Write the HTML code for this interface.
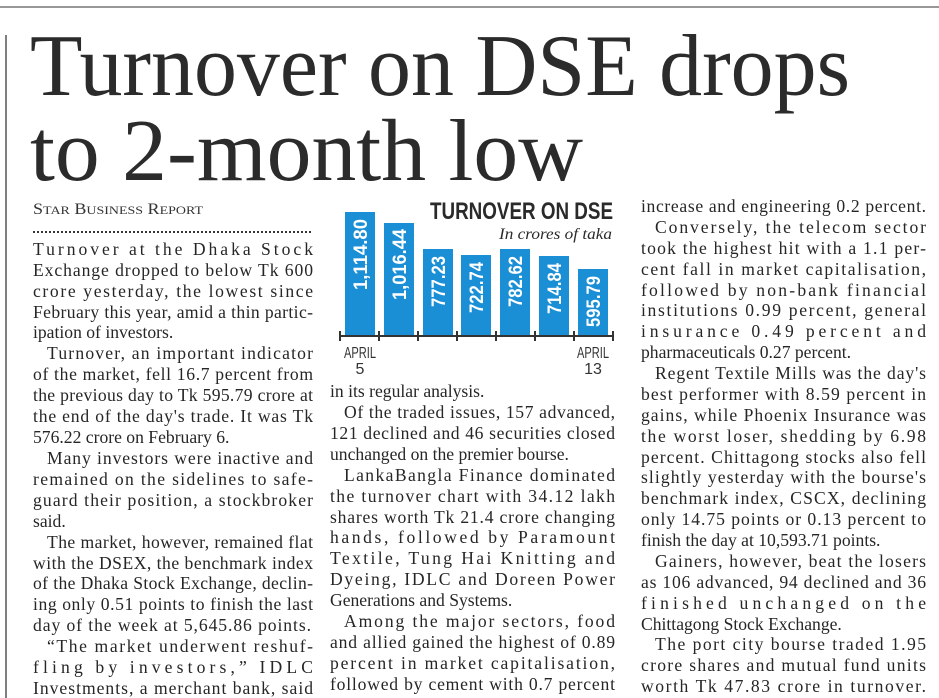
<!DOCTYPE html>
<html><head><meta charset="utf-8"><style>
html,body{margin:0;padding:0;background:#fff;}
svg{display:block}
.b{font-family:"Liberation Serif",serif;font-size:17.6px;fill:#262626;}
</style></head><body>
<svg width="939" height="698" viewBox="0 0 939 698" xmlns="http://www.w3.org/2000/svg">
<rect width="939" height="698" fill="#fff"/>
<line x1="0" y1="7" x2="939" y2="7" stroke="#777" stroke-width="1.5"/>
<line x1="6" y1="35" x2="6" y2="698" stroke="#555" stroke-width="1.5"/>
<g font-family="Liberation Serif, serif" fill="#2b2b2b" font-size="88">
<text x="30" y="95" textLength="820" lengthAdjust="spacingAndGlyphs">Turnover on DSE drops</text>
<text x="30" y="180" textLength="553" lengthAdjust="spacingAndGlyphs">to 2-month low</text>
</g>
<text x="33" y="214" font-family="Liberation Serif, serif" font-size="15.5" fill="#333" textLength="170" lengthAdjust="spacingAndGlyphs">S<tspan font-size="12">TAR</tspan> B<tspan font-size="12">USINESS</tspan> R<tspan font-size="12">EPORT</tspan></text>
<line x1="33" y1="232" x2="312" y2="232" stroke="#333" stroke-width="2" stroke-dasharray="2,2"/>

<!-- chart -->
<g fill="#1b8fd5">
<rect x="345" y="212" width="30" height="123"/>
<rect x="384" y="223" width="30" height="112"/>
<rect x="423" y="249" width="30" height="86"/>
<rect x="461" y="255" width="30" height="80"/>
<rect x="500" y="249" width="30" height="86"/>
<rect x="539" y="256" width="30" height="79"/>
<rect x="578" y="269" width="30" height="66"/>
</g>
<g font-family="Liberation Sans, sans-serif" font-weight="bold" font-size="19" fill="#fff" text-anchor="end">
<text transform="translate(367,219) rotate(-90)" textLength="71" lengthAdjust="spacingAndGlyphs">1,114.80</text>
<text transform="translate(406,229) rotate(-90)" textLength="71" lengthAdjust="spacingAndGlyphs">1,016.44</text>
<text transform="translate(445,256) rotate(-90)" textLength="51" lengthAdjust="spacingAndGlyphs">777.23</text>
<text transform="translate(483,262) rotate(-90)" textLength="51" lengthAdjust="spacingAndGlyphs">722.74</text>
<text transform="translate(522,256) rotate(-90)" textLength="51" lengthAdjust="spacingAndGlyphs">782.62</text>
<text transform="translate(561,263) rotate(-90)" textLength="51" lengthAdjust="spacingAndGlyphs">714.84</text>
<text transform="translate(600,276) rotate(-90)" textLength="51" lengthAdjust="spacingAndGlyphs">595.79</text>
</g>
<g stroke="#333" stroke-width="2">
<line x1="340" y1="336" x2="613" y2="336"/>
<line x1="340" y1="331" x2="340" y2="341"/><line x1="379" y1="331" x2="379" y2="341"/>
<line x1="418" y1="331" x2="418" y2="341"/><line x1="457" y1="331" x2="457" y2="341"/>
<line x1="496" y1="331" x2="496" y2="341"/><line x1="535" y1="331" x2="535" y2="341"/>
<line x1="574" y1="331" x2="574" y2="341"/><line x1="613" y1="331" x2="613" y2="341"/>
</g>
<g font-family="Liberation Sans, sans-serif" font-size="16" fill="#333" text-anchor="middle">
<text x="360" y="358" textLength="32" lengthAdjust="spacingAndGlyphs">APRIL</text>
<text x="360" y="374">5</text>
<text x="593" y="358" textLength="32" lengthAdjust="spacingAndGlyphs">APRIL</text>
<text x="593" y="374">13</text>
</g>
<text x="430" y="219" font-family="Liberation Sans, sans-serif" font-weight="bold" font-size="24" fill="#2a2a2a" textLength="183" lengthAdjust="spacingAndGlyphs">TURNOVER ON DSE</text>
<text x="499" y="239" font-family="Liberation Serif, serif" font-style="italic" font-size="15.5" fill="#2a2a2a" textLength="113" lengthAdjust="spacingAndGlyphs">In crores of taka</text>

<!-- column 1 -->
<g class="b">
<text x="33" y="255" textLength="280" lengthAdjust="spacing">Turnover at the Dhaka Stock</text>
<text x="33" y="276" textLength="280" lengthAdjust="spacing">Exchange dropped to below Tk 600</text>
<text x="33" y="297" textLength="280" lengthAdjust="spacing">crore yesterday, the lowest since</text>
<text x="33" y="318" textLength="280" lengthAdjust="spacing">February this year, amid a thin partic-</text>
<text x="33" y="338">ipation of investors.</text>
<text x="47" y="359" textLength="266" lengthAdjust="spacing">Turnover, an important indicator</text>
<text x="33" y="380" textLength="280" lengthAdjust="spacing">of the market, fell 16.7 percent from</text>
<text x="33" y="401" textLength="280" lengthAdjust="spacing">the previous day to Tk 595.79 crore at</text>
<text x="33" y="422" textLength="280" lengthAdjust="spacing">the end of the day's trade. It was Tk</text>
<text x="33" y="443">576.22 crore on February 6.</text>
<text x="47" y="464" textLength="266" lengthAdjust="spacing">Many investors were inactive and</text>
<text x="33" y="485" textLength="280" lengthAdjust="spacing">remained on the sidelines to safe-</text>
<text x="33" y="506" textLength="280" lengthAdjust="spacing">guard their position, a stockbroker</text>
<text x="33" y="527">said.</text>
<text x="47" y="548" textLength="266" lengthAdjust="spacing">The market, however, remained flat</text>
<text x="33" y="569" textLength="280" lengthAdjust="spacing">with the DSEX, the benchmark index</text>
<text x="33" y="589" textLength="280" lengthAdjust="spacing">of the Dhaka Stock Exchange, declin-</text>
<text x="33" y="610" textLength="280" lengthAdjust="spacing">ing only 0.51 points to finish the last</text>
<text x="33" y="631" textLength="278" lengthAdjust="spacing">day of the week at 5,645.86 points.</text>
<text x="47" y="652" textLength="266" lengthAdjust="spacing">“The market underwent reshuf-</text>
<text x="33" y="673" textLength="280" lengthAdjust="spacing">fling by investors,” IDLC</text>
<text x="33" y="694" textLength="280" lengthAdjust="spacing">Investments, a merchant bank, said</text>
</g>

<!-- column 2 -->
<g class="b">
<text x="330" y="397">in its regular analysis.</text>
<text x="344" y="418" textLength="271" lengthAdjust="spacing">Of the traded issues, 157 advanced,</text>
<text x="330" y="439" textLength="285" lengthAdjust="spacing">121 declined and 46 securities closed</text>
<text x="330" y="460">unchanged on the premier bourse.</text>
<text x="344" y="481" textLength="271" lengthAdjust="spacing">LankaBangla Finance dominated</text>
<text x="330" y="502" textLength="285" lengthAdjust="spacing">the turnover chart with 34.12 lakh</text>
<text x="330" y="523" textLength="285" lengthAdjust="spacing">shares worth Tk 21.4 crore changing</text>
<text x="330" y="543" textLength="285" lengthAdjust="spacing">hands, followed by Paramount</text>
<text x="330" y="564" textLength="285" lengthAdjust="spacing">Textile, Tung Hai Knitting and</text>
<text x="330" y="585" textLength="285" lengthAdjust="spacing">Dyeing, IDLC and Doreen Power</text>
<text x="330" y="606">Generations and Systems.</text>
<text x="344" y="627" textLength="271" lengthAdjust="spacing">Among the major sectors, food</text>
<text x="330" y="648" textLength="285" lengthAdjust="spacing">and allied gained the highest of 0.89</text>
<text x="330" y="669" textLength="285" lengthAdjust="spacing">percent in market capitalisation,</text>
<text x="330" y="690" textLength="285" lengthAdjust="spacing">followed by cement with 0.7 percent</text>
</g>

<!-- column 3 -->
<g class="b">
<text x="641" y="212" textLength="285" lengthAdjust="spacing">increase and engineering 0.2 percent.</text>
<text x="655" y="233" textLength="271" lengthAdjust="spacing">Conversely, the telecom sector</text>
<text x="641" y="254" textLength="285" lengthAdjust="spacing">took the highest hit with a 1.1 per-</text>
<text x="641" y="275" textLength="285" lengthAdjust="spacing">cent fall in market capitalisation,</text>
<text x="641" y="296" textLength="285" lengthAdjust="spacing">followed by non-bank financial</text>
<text x="641" y="316" textLength="285" lengthAdjust="spacing">institutions 0.99 percent, general</text>
<text x="641" y="337" textLength="285" lengthAdjust="spacing">insurance 0.49 percent and</text>
<text x="641" y="358">pharmaceuticals 0.27 percent.</text>
<text x="655" y="379" textLength="271" lengthAdjust="spacing">Regent Textile Mills was the day's</text>
<text x="641" y="400" textLength="285" lengthAdjust="spacing">best performer with 8.59 percent in</text>
<text x="641" y="421" textLength="285" lengthAdjust="spacing">gains, while Phoenix Insurance was</text>
<text x="641" y="442" textLength="285" lengthAdjust="spacing">the worst loser, shedding by 6.98</text>
<text x="641" y="463" textLength="285" lengthAdjust="spacing">percent. Chittagong stocks also fell</text>
<text x="641" y="483" textLength="285" lengthAdjust="spacing">slightly yesterday with the bourse's</text>
<text x="641" y="504" textLength="285" lengthAdjust="spacing">benchmark index, CSCX, declining</text>
<text x="641" y="525" textLength="285" lengthAdjust="spacing">only 14.75 points or 0.13 percent to</text>
<text x="641" y="546">finish the day at 10,593.71 points.</text>
<text x="655" y="567" textLength="271" lengthAdjust="spacing">Gainers, however, beat the losers</text>
<text x="641" y="588" textLength="285" lengthAdjust="spacing">as 106 advanced, 94 declined and 36</text>
<text x="641" y="609" textLength="285" lengthAdjust="spacing">finished unchanged on the</text>
<text x="641" y="630">Chittagong Stock Exchange.</text>
<text x="655" y="650" textLength="271" lengthAdjust="spacing">The port city bourse traded 1.95</text>
<text x="641" y="671" textLength="285" lengthAdjust="spacing">crore shares and mutual fund units</text>
<text x="641" y="692" textLength="285" lengthAdjust="spacing">worth Tk 47.83 crore in turnover.</text>
</g>
</svg>
</body></html>
